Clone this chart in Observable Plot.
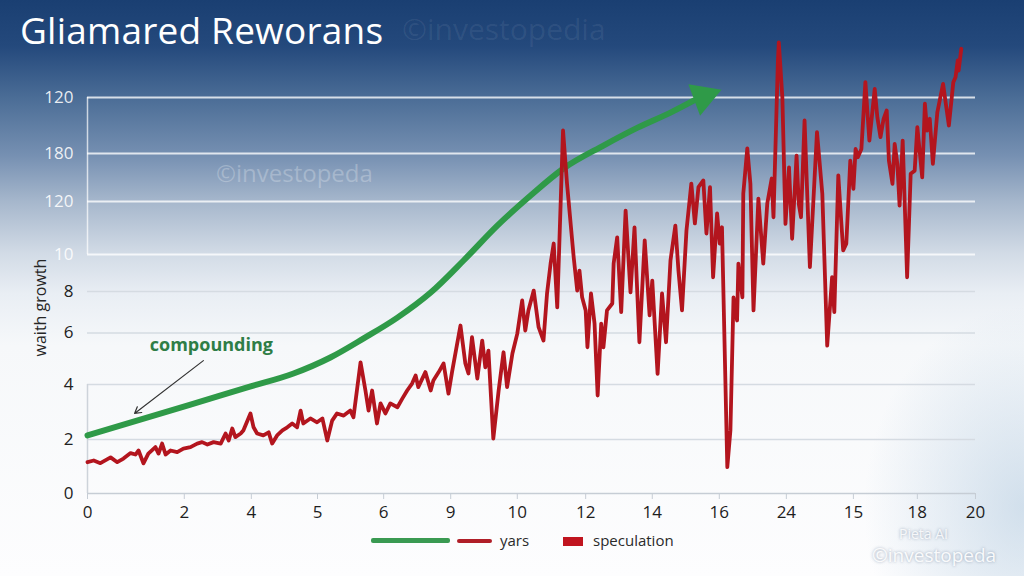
<!DOCTYPE html>
<html><head><meta charset="utf-8">
<script src="https://cdn.jsdelivr.net/npm/d3@7"></script>
<script src="https://cdn.jsdelivr.net/npm/@observablehq/plot@0.6"></script>
<style>
html,body{margin:0;padding:0;background:#fff;}
#wrap{position:relative;width:1024px;height:576px;overflow:hidden;font-family:"Open Sans",sans-serif;
background:
 radial-gradient(ellipse 160px 200px at 100% 88%, rgba(175,200,222,0.55), rgba(175,200,222,0) 100%),
 linear-gradient(180deg,#1a3f72 0%,#24497c 8%,#4b6d96 17%,#7690b2 27%,#a6b7cc 35%,#d2dbe6 44%,#e9eef4 51%,#f6f8fa 60%,#fdfdfe 100%);}
#chart{position:absolute;left:0;top:0;}
.title{position:absolute;left:20px;top:11px;font-size:37px;line-height:1;font-weight:500;color:#fff;letter-spacing:0.2px;}
.wm{position:absolute;line-height:1;white-space:nowrap;}
.leg{position:absolute;font-size:15px;line-height:1;color:#2a2a2a;}
.sw{position:absolute;}
</style></head>
<body>
<div id="wrap">
  <div class="wm" style="left:402px;top:14px;font-size:30px;color:rgba(255,255,255,0.07);">©investopedia</div>
  <div class="wm" style="left:216px;top:161px;font-size:24px;color:rgba(255,255,255,0.25);">©investopeda</div>
  <div id="chart"></div>
  <div class="title">Gliamared Reworans</div>
  <div class="sw" style="left:371px;top:538px;width:79px;height:5px;background:#3a9a52;border-radius:2px;"></div>
  <div class="sw" style="left:457px;top:538.5px;width:35px;height:4.5px;background:#b01e28;border-radius:2px;"></div>
  <div class="leg" style="left:500px;top:533px;">yars</div>
  <div class="sw" style="left:563px;top:537px;width:20px;height:9px;background:#c0141f;"></div>
  <div class="leg" style="left:593px;top:533px;">speculation</div>
  <div class="wm" style="left:899px;top:527px;font-size:14px;color:rgba(255,255,255,0.85);text-shadow:0 0 3px rgba(90,110,140,0.6);">Pieta AI</div>
  <div class="wm" style="left:872px;top:546px;font-size:19px;color:rgba(255,255,255,0.92);text-shadow:0 0 3px rgba(90,110,140,0.6);">©investopeda</div>
</div>
<script>
const xTicks = [0, 2.18, 3.69, 5.18, 6.67, 8.18, 9.68, 11.22, 12.72, 14.23, 15.74, 17.25, 18.69, 20];
const xLabels = ["0","2","4","5","6","9","10","12","14","16","24","15","18","20"];
const yTicks = [0, 2.26, 4.56, 6.72, 8.45, 10, 12.22, 14.23, 16.57];
const yLabels = ["0","2","4","6","8","10","120","180","120"];

// compounding curve (green)
const compounding = [
  [0, 2.43], [2.32, 3.72], [3.6, 4.44], [4.64, 5.02], [5.47, 5.69], [6.22, 6.49],
  [6.98, 7.36], [7.73, 8.41], [8.47, 9.75], [9.23, 11.21], [9.98, 12.47],
  [10.72, 13.60], [11.62, 14.56], [12.39, 15.31], [13.13, 15.94], [13.65, 16.44]
];
const arrowHead = [[13.87, 16.61]];

// speculation series (red)
const speculation = [
  [0.00,1.31],[0.14,1.38],[0.29,1.27],[0.52,1.51],[0.67,1.31],[0.81,1.46],[0.97,1.69],[1.08,1.63],
  [1.15,1.80],[1.26,1.26],[1.37,1.67],[1.53,1.94],[1.60,1.67],[1.68,2.09],[1.76,1.63],[1.87,1.80],
  [2.02,1.73],[2.16,1.88],[2.32,1.94],[2.47,2.09],[2.58,2.15],[2.70,2.05],[2.84,2.15],[3.00,2.09],
  [3.11,2.51],[3.18,2.22],[3.26,2.72],[3.33,2.36],[3.45,2.51],[3.51,2.64],[3.67,3.35],[3.74,2.77],
  [3.82,2.51],[3.96,2.43],[4.08,2.56],[4.16,2.09],[4.27,2.43],[4.39,2.64],[4.50,2.77],[4.61,2.93],
  [4.72,2.77],[4.80,3.47],[4.86,2.93],[5.02,3.14],[5.17,2.98],[5.29,3.14],[5.40,2.22],[5.51,3.05],
  [5.62,3.35],[5.77,3.26],[5.92,3.47],[5.99,3.19],[6.15,5.49],[6.26,4.31],[6.33,3.47],[6.41,4.31],
  [6.52,2.93],[6.60,3.77],[6.71,3.35],[6.82,3.77],[6.98,3.61],[7.09,3.97],[7.20,4.31],[7.31,4.60],
  [7.39,4.94],[7.45,4.45],[7.61,5.08],[7.73,4.31],[7.79,4.73],[7.91,5.08],[8.02,5.44],[8.13,4.18],
  [8.21,5.08],[8.40,7.03],[8.51,5.44],[8.58,5.02],[8.66,6.54],[8.78,4.81],[8.89,6.40],[8.96,5.28],
  [9.03,5.98],[9.14,2.30],[9.26,4.31],[9.37,5.91],[9.45,4.45],[9.57,5.86],[9.68,6.69],[9.79,8.08],
  [9.86,6.82],[9.93,7.66],[10.05,8.49],[10.16,6.96],[10.27,6.40],[10.35,8.37],[10.43,9.62],[10.50,10.46],
  [10.58,7.79],[10.71,15.19],[10.80,12.97],[10.95,9.89],[11.03,8.49],[11.08,9.33],[11.14,8.21],[11.22,7.66],
  [11.26,6.12],[11.34,8.37],[11.42,7.11],[11.49,4.10],[11.57,7.11],[11.62,6.12],[11.70,7.66],[11.82,7.95],
  [11.85,9.62],[11.93,10.72],[12.02,7.59],[12.12,11.84],[12.23,8.42],[12.32,11.14],[12.43,6.33],[12.55,10.59],
  [12.66,7.45],[12.72,8.91],[12.84,5.01],[12.94,8.37],[13.03,6.33],[13.13,9.75],[13.24,11.21],[13.31,9.33],
  [13.39,7.66],[13.49,11.00],[13.60,12.97],[13.68,11.30],[13.76,12.82],[13.87,13.10],[13.94,10.88],[14.02,12.82],
  [14.09,9.05],[14.18,11.72],[14.24,10.46],[14.29,11.14],[14.41,1.10],[14.48,2.64],[14.55,8.21],[14.63,7.24],
  [14.66,9.62],[14.75,8.21],[14.77,12.55],[14.86,14.44],[14.93,12.97],[15.00,7.66],[15.11,12.34],[15.22,9.62],
  [15.31,12.13],[15.41,13.18],[15.45,11.56],[15.55,18.12],[15.57,18.88],[15.65,16.58],[15.72,11.28],[15.80,13.65],
  [15.87,10.66],[15.97,14.14],[16.02,12.12],[16.07,11.56],[16.15,15.61],[16.27,9.47],[16.43,15.12],[16.55,12.54],
  [16.66,6.19],[16.77,9.05],[16.82,7.59],[16.91,13.31],[16.96,11.84],[17.02,10.17],[17.09,10.45],[17.18,13.93],
  [17.25,12.75],[17.30,14.42],[17.35,14.07],[17.43,14.42],[17.52,17.21],[17.61,14.77],[17.73,16.93],[17.79,15.74],
  [17.86,14.91],[17.93,15.68],[18.00,16.03],[18.05,13.93],[18.13,12.96],[18.18,14.63],[18.24,13.79],[18.29,12.05],
  [18.36,14.77],[18.46,9.05],[18.54,13.38],[18.63,13.51],[18.69,15.33],[18.80,13.23],[18.86,16.31],[18.91,15.19],
  [18.97,15.68],[19.04,13.79],[19.14,15.95],[19.27,17.14],[19.40,15.40],[19.50,17.21],[19.55,17.42],[19.60,18.12],
  [19.62,17.70],[19.68,18.61]
];

const annotation = [{text: "compounding", tx: 2.79, ty: 6.19, x1: 2.61, y1: 5.56, x2: 1.06, y2: 3.35}];
const axisLabel = ["waith growth"];

const green = "#2f9a48";
const red = "#b3151e";
const lowTicks = yTicks.filter(v => v < 9);
const highTicks = yTicks.filter(v => v >= 9);
const yFmt = d => yLabels[yTicks.indexOf(d)];
const xFmt = d => xLabels[xTicks.indexOf(d)];

const chart = Plot.plot({
  width: 1024, height: 576,
  marginLeft: 87, marginRight: 49, marginTop: 27, marginBottom: 83,
  style: {background: "transparent", fontFamily: "'Open Sans', sans-serif", overflow: "visible"},
  x: {domain: [0, 20], axis: null},
  y: {domain: [0, 19.5], axis: null},
  marks: [
    Plot.ruleY(lowTicks.filter(v => v > 0), {stroke: "#d5dbe2", strokeWidth: 1.5}),
    Plot.ruleY(highTicks, {stroke: "rgba(255,255,255,0.78)", strokeWidth: 2}),
    Plot.ruleX([0], {y1: 0, y2: 4.56, stroke: "#cdd3da", strokeWidth: 1.5}),
    Plot.ruleX([0], {y1: 10, y2: 16.57, stroke: "rgba(255,255,255,0.7)", strokeWidth: 1.5}),
    Plot.ruleY([0], {stroke: "#c6cdd5", strokeWidth: 1.5}),
    Plot.axisX(xTicks, {tickFormat: xFmt, tickSize: 6, tickPadding: 6, stroke: "#c6cdd5", fill: "#1e1e1e", fontSize: 17, fontWeight: 500, label: null}),
    Plot.axisY(lowTicks, {tickFormat: yFmt, tickSize: 0, tickPadding: 14, fill: "#222", fontSize: 17, label: null}),
    Plot.axisY(highTicks, {tickFormat: yFmt, tickSize: 0, tickPadding: 14, fill: "rgba(255,255,255,0.88)", fontSize: 17, label: null}),
    Plot.text(axisLabel, {x: -1.06, y: 7.78, text: d => d, rotate: -90, fontSize: 16, fill: "#262626"}),
    Plot.line(compounding, {x: d => d[0], y: d => d[1], stroke: green, strokeWidth: 6, curve: "monotone-x", strokeLinecap: "round"}),
    Plot.dot(arrowHead, {x: d => d[0], y: d => d[1], symbol: "triangle", r: 12.5, rotate: 69.6, fill: green, stroke: "none"}),
    Plot.line(speculation, {x: d => d[0], y: d => d[1], stroke: red, strokeWidth: 3.8, strokeLinejoin: "round"}),
    Plot.text(annotation, {x: "tx", y: "ty", text: "text", fontSize: 18, fontWeight: "bold", fill: "#2e7d46"}),
    Plot.arrow(annotation, {x1: "x1", y1: "y1", x2: "x2", y2: "y2", stroke: "#333", strokeWidth: 1.2, headLength: 9})
  ]
});
document.getElementById("chart").appendChild(chart);
</script>
</body></html>
